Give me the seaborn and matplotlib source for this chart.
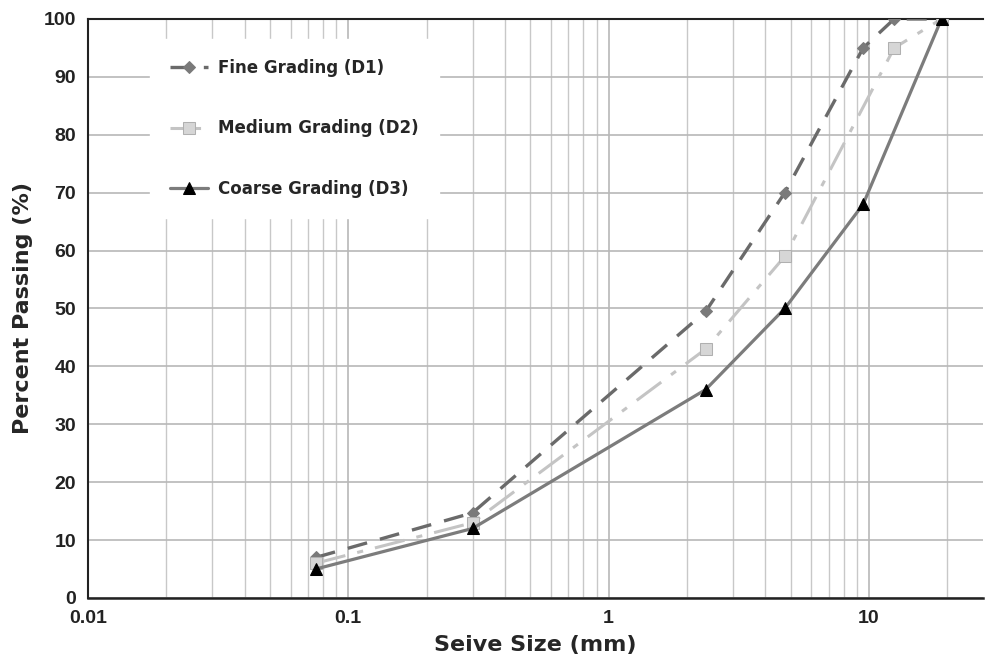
import matplotlib
matplotlib.use("Agg")
import matplotlib.pyplot as plt
import seaborn as sns
import pandas as pd
from matplotlib.ticker import FixedLocator, LogLocator, NullFormatter, FixedFormatter

sns.set_style("white")
plt.rcParams['font.family'] = ['Liberation Sans', 'DejaVu Sans']

fine_size = [0.075, 0.3, 2.36, 4.75, 9.5, 12.5, 19]
fine_pass = [7, 14.7, 49.5, 70, 95, 100, 100]
med_size = [0.075, 0.3, 2.36, 4.75, 12.5, 19]
med_pass = [6, 13, 43, 59, 95, 100]
coarse_size = [0.075, 0.3, 2.36, 4.75, 9.5, 19]
coarse_pass = [5, 12, 36, 50, 68, 100]

labels = ["Fine Grading (D1)", "Medium Grading (D2)", "Coarse Grading (D3)"]
x_ticks = [0.01, 0.1, 1, 10]
x_tick_labels = ["0.01", "0.1", "1", "10"]
y_ticks = [0, 10, 20, 30, 40, 50, 60, 70, 80, 90, 100]

fig = plt.figure(figsize=(9.85, 6.59), dpi=100)
ax = fig.add_axes([0.0893, 0.0926, 0.909, 0.8786])

df_f = pd.DataFrame({"size": fine_size, "pass": fine_pass})
df_m = pd.DataFrame({"size": med_size, "pass": med_pass})
df_c = pd.DataFrame({"size": coarse_size, "pass": coarse_pass})

sns.lineplot(data=df_f, x="size", y="pass", ax=ax, color="#6a6a6a", lw=2.4,
             marker="D", markersize=6, markerfacecolor="#7a7a7a", markeredgecolor="#7a7a7a",
             label=labels[0], zorder=3)
ax.lines[-1].set_dashes([6, 4])
sns.lineplot(data=df_m, x="size", y="pass", ax=ax, color="#c4c4c4", lw=2.2,
             marker="s", markersize=9, markerfacecolor="#d6d6d6", markeredgecolor="#b0b0b0",
             label=labels[1], zorder=4)
ax.lines[-1].set_dashes([10, 4, 2, 4])
sns.lineplot(data=df_c, x="size", y="pass", ax=ax, color="#7c7c7c", lw=2.3,
             marker="^", markersize=8, markerfacecolor="black", markeredgecolor="black",
             label=labels[2], zorder=5)

ax.set_xscale("log")
ax.set_xlim(0.01, 27.5)
ax.set_ylim(0, 100)
ax.xaxis.set_major_locator(FixedLocator(x_ticks))
ax.xaxis.set_major_formatter(FixedFormatter(x_tick_labels))
ax.xaxis.set_minor_locator(LogLocator(base=10, subs=range(2, 10)))
ax.xaxis.set_minor_formatter(NullFormatter())
ax.set_yticks(y_ticks)

ax.grid(which="major", axis="both", color="#b8b8b8", lw=1.2, zorder=0)
ax.grid(which="minor", axis="x", color="#c8c8c8", lw=1.0, zorder=0)
ax.set_axisbelow(True)

ax.spines["right"].set_visible(False)
ax.spines["top"].set_color("#222222")
ax.spines["top"].set_linewidth(1.5)
ax.spines["left"].set_color("#222222")
ax.spines["left"].set_linewidth(1.5)
ax.spines["bottom"].set_color("#222222")
ax.spines["bottom"].set_linewidth(1.8)

ax.tick_params(axis="both", which="major", labelsize=14, length=5, color="#222222", direction="out", width=1.2)
ax.tick_params(axis="x", which="minor", length=0)
for t in ax.get_xticklabels() + ax.get_yticklabels():
    t.set_fontweight("bold")
    t.set_color("#222222")

ax.set_xlabel("Seive Size (mm)", fontsize=16, fontweight="bold", labelpad=6,
              family=["DejaVu Sans"])
ax.set_ylabel("Percent Passing (%)", fontsize=16, fontweight="bold", labelpad=8,
              family=["DejaVu Sans"])

handles, labs = ax.get_legend_handles_labels()
order = [labs.index(l) for l in labels]
leg = ax.legend([handles[i] for i in order], [labs[i] for i in order],
                loc="upper left", bbox_to_anchor=(0.06, 0.98), frameon=True,
                facecolor="white", edgecolor="white", framealpha=1.0,
                prop={"weight": "bold", "size": 12, "family": "DejaVu Sans"},
                labelspacing=2.55, handlelength=2.3, handletextpad=0.6,
                borderpad=1.2, fancybox=False)
leg.set_zorder(10)

fig.savefig("out.png", dpi=100)
